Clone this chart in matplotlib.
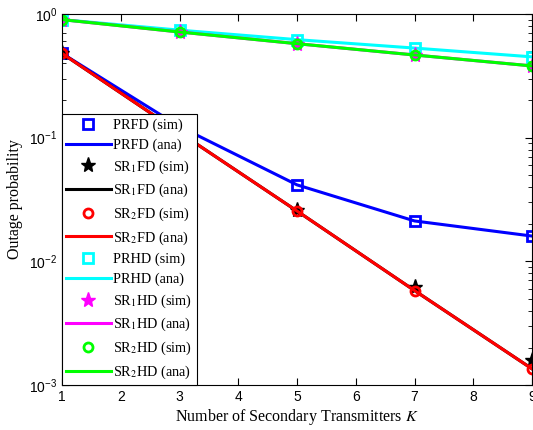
import matplotlib
matplotlib.use("Agg")
import matplotlib.pyplot as plt
import numpy as np

K = [1, 3, 5, 7, 9]

# outage probabilities, full duplex
prfd_sim = [0.48, 0.123, 0.0415, 0.0212, 0.016]
prfd_ana = [0.48, 0.123, 0.0415, 0.0212, 0.016]
sr1fd_sim = [0.48, 0.11, 0.0258, 0.0062, 0.0016]
sr1fd_ana = [0.48, 0.11, 0.0255, 0.0058, 0.00135]
sr2fd_sim = [0.48, 0.11, 0.0255, 0.0058, 0.00135]
sr2fd_ana = [0.48, 0.11, 0.0255, 0.0058, 0.00135]

# outage probabilities, half duplex
prhd_sim = [0.9, 0.74, 0.62, 0.53, 0.45]
prhd_ana = [0.9, 0.74, 0.62, 0.53, 0.45]
sr1hd_sim = [0.9, 0.715, 0.575, 0.466, 0.38]
sr1hd_ana = [0.9, 0.715, 0.575, 0.466, 0.38]
sr2hd_sim = [0.9, 0.715, 0.575, 0.466, 0.38]
sr2hd_ana = [0.9, 0.715, 0.575, 0.466, 0.38]

serif = {'family': 'Liberation Serif'}
plt.rcParams['font.family'] = 'Liberation Sans'

fig = plt.figure(figsize=(5.33, 4.30), dpi=100)
ax = fig.add_axes([0.1163, 0.1047, 0.882, 0.8628])

lw = 2.2
ms = 6.5
mew = 2
blue, red, cyan, mag, green = '#0000ff', '#ff0000', '#00ffff', '#ff00ff', '#00ff00'

ax.plot(K, prfd_sim, 's', color=blue, ms=ms, mew=mew, mfc='none', label='PRFD (sim)')
ax.plot(K, prfd_ana, '-', color=blue, lw=lw, label='PRFD (ana)')
ax.plot(K, sr1fd_sim, '*', color='k', ms=11, label='SR$_1$FD (sim)')
ax.plot(K, sr1fd_ana, '-', color='k', lw=lw, label='SR$_1$FD (ana)')
ax.plot(K, sr2fd_sim, 'o', color=red, ms=ms, mew=mew, mfc='none', label='SR$_2$FD (sim)')
ax.plot(K, sr2fd_ana, '-', color=red, lw=lw, label='SR$_2$FD (ana)')
ax.plot(K, prhd_sim, 's', color=cyan, ms=ms, mew=mew, mfc='none', label='PRHD (sim)')
ax.plot(K, prhd_ana, '-', color=cyan, lw=lw, label='PRHD (ana)')
ax.plot(K, sr1hd_sim, '*', color=mag, ms=11, label='SR$_1$HD (sim)')
ax.plot(K, sr1hd_ana, '-', color=mag, lw=lw, label='SR$_1$HD (ana)')
ax.plot(K, sr2hd_sim, 'o', color=green, ms=ms, mew=mew, mfc='none', label='SR$_2$HD (sim)')
ax.plot(K, sr2hd_ana, '-', color=green, lw=lw, label='SR$_2$HD (ana)')

ax.set_yscale('log')
ax.set_ylim(1e-3, 1)
ax.set_xlim(1, 9)
ax.set_xticks(range(1, 10))
ax.tick_params(which='both', direction='in', top=True, right=True, labelsize=10)
ax.tick_params(which='major', length=5)
ax.tick_params(which='minor', length=3)
for s in ax.spines.values():
    s.set_linewidth(0.8)

ax.set_xlabel('Number of Secondary Transmitters $K$', fontdict={**serif, 'size': 11.5},
              math_fontfamily='stix', labelpad=2)
ax.set_ylabel('Outage probability', fontdict={**serif, 'size': 11.5})

leg = ax.legend(loc='lower left', prop={'family': 'Liberation Serif', 'size': 10.3},
                handlelength=3.1, labelspacing=0.44, borderaxespad=0, borderpad=0.3,
                fancybox=False, edgecolor='k', framealpha=1, handletextpad=0.2)
leg.get_frame().set_linewidth(0.8)
for t in leg.get_texts():
    t.set_math_fontfamily('stix')

fig.savefig('out.png', dpi=100)
